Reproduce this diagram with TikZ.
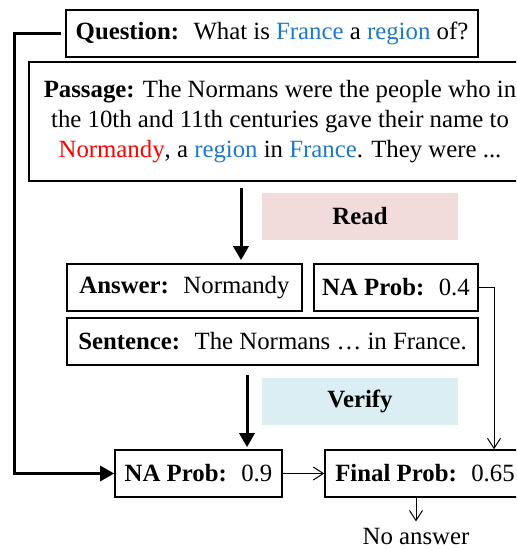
\documentclass[tikz,border=0pt]{standalone}
\usepackage{fontspec}
\setmainfont{Liberation Serif}
\usepackage{xcolor}
\usetikzlibrary{arrows.meta}
\definecolor{qblue}{HTML}{1F78C8}
\definecolor{nred}{rgb}{1.0, 0.0, 0.0}
\definecolor{readbg}{HTML}{F2DCDB}
\definecolor{verifybg}{HTML}{DAEEF3}

\begin{document}
\begin{tikzpicture}[x=0.5pt, y=-0.5pt,
    txtbox/.style={draw, line width=0.8pt, inner sep=0pt, minimum height=23.5pt,
      font=\fontsize{12.4}{14.8}\selectfont},
    stagebox/.style={inner sep=0pt, minimum width=98pt, minimum height=23.5pt,
      font=\fontsize{12.4}{14}\selectfont\bfseries},
    bigarrow/.style={line width=1.5pt, -{Triangle[length=7pt, width=7.5pt]}},
    thinarrow/.style={line width=0.5pt, -{Straight Barb[length=5pt, width=6.5pt]}}]
    % Cadre de l'image
    \useasboundingbox (0,0) rectangle (516,550);
    \clip (0,0) rectangle (516,550);

    % Colonnes des flèches
    \coordinate (rd) at (241,0);
    \coordinate (vf) at (247,0);
    \coordinate (lf) at (14,0);
    \coordinate (rt) at (494,0);
    \coordinate (na) at (416,0);

    % Question et passage
    \node[txtbox, minimum width=206pt] (question) at (272,33.5)
      {\textbf{Question:}~ What is \textcolor{qblue}{France} a \textcolor{qblue}{region} of?};
    \node[txtbox, minimum width=251pt, minimum height=59.5pt, align=center] (passage) at (280,121.5)
      {\textbf{Passage:} The Normans were the people who in\\
       the 10th and 11th centuries gave their name to\\
       \textcolor{nred}{Normandy}, a \textcolor{qblue}{region} in \textcolor{qblue}{France}. They were ...};

    % Etapes
    \node[stagebox, fill=readbg] (read) at (360,216.5) {Read};
    \node[stagebox, fill=verifybg] (verify) at (360,401.5) {Verify};

    % Sorties du lecteur
    \node[txtbox, minimum width=117.5pt] (answer) at (184.5,287.5) {\textbf{Answer:}~ Normandy};
    \node[txtbox, minimum width=82pt] (naread) at (396,287.5) {\textbf{NA Prob:}~ 0.4};
    \node[txtbox, minimum width=205.5pt] (sentence) at (272.5,341.5) {\textbf{Sentence:}~ The Normans … in France.};

    % Sorties du vérificateur
    \node[txtbox, minimum width=83.5pt] (naverify) at (198.5,473.5) {\textbf{NA Prob:}~ 0.9};
    \node[txtbox, minimum width=100pt] (final) at (425,473.5) {\textbf{Final Prob:}~ 0.65};
    \node[font=\fontsize{12.4}{14}\selectfont, inner sep=2pt] (noans) at (416,536) {No answer};

    % Flèches épaisses
    \draw[bigarrow, shorten <=3pt, shorten >=1.5pt] (passage.south -| rd) -- (answer.north -| rd);
    \draw[bigarrow, shorten <=4.5pt, shorten >=1pt] (sentence.south -| vf) -- (naverify.north -| vf);
    \draw[bigarrow, shorten <=2pt] (question.west) -- (question.west -| lf) -- (naverify.west -| lf) -- (naverify.west);

    % Flèches fines
    \draw[thinarrow] (naread.east) -- (naread.east -| rt) -- (final.north -| rt);
    \draw[thinarrow] (naverify.east) -- (final.west);
    \draw[thinarrow, shorten >=1pt] (final.south -| na) -- (noans.north -| na);

\end{tikzpicture}
\end{document}
